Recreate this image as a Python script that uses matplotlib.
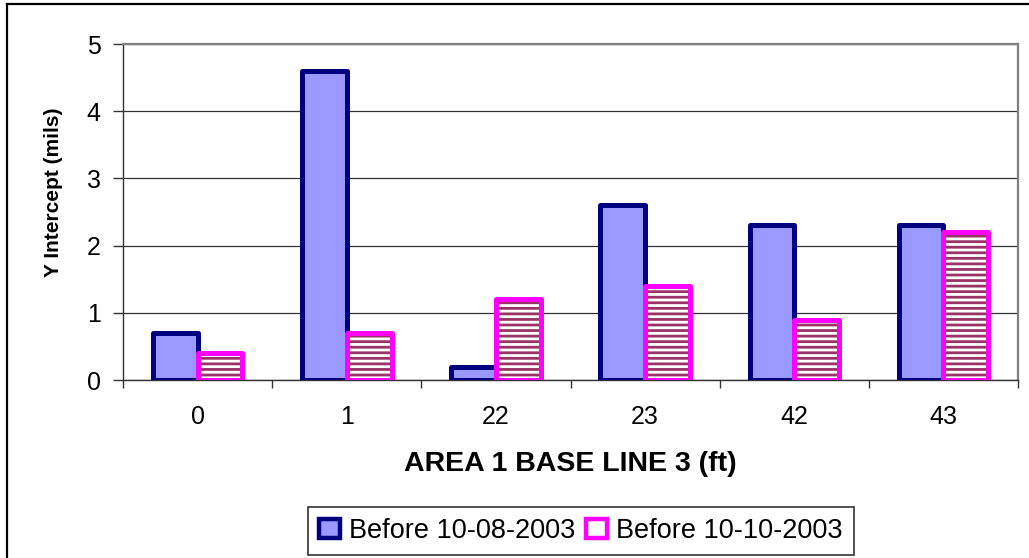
import matplotlib
matplotlib.use("Agg")
import matplotlib.pyplot as plt
import numpy as np
from matplotlib.patches import Patch
from matplotlib.lines import Line2D

# Data
categories = ["0", "1", "22", "23", "42", "43"]
before_1008 = [0.7, 4.6, 0.2, 2.6, 2.3, 2.3]
before_1010 = [0.4, 0.7, 1.2, 1.4, 0.9, 2.2]
series_labels = ["Before 10-08-2003", "Before 10-10-2003"]
y_ticks = [0, 1, 2, 3, 4, 5]

plt.rcParams["font.family"] = ["Liberation Sans", "DejaVu Sans"]
plt.rcParams["hatch.linewidth"] = 2.0

W, H = 1029, 558
fig = plt.figure(figsize=(W / 100, H / 100), dpi=100)
ax = fig.add_axes([123 / W, 1 - 380 / H, (1018 - 123) / W, (380 - 44) / H])

x = np.arange(len(categories))
bw = 0.3
navy = "#000080"
lilac = "#9999FF"
magenta = "#FF00FF"
plum = "#993366"

ax.bar(x - bw / 2, before_1008, bw, facecolor=lilac, edgecolor=navy,
       linewidth=3.6, joinstyle="round", zorder=3)
# striped fill, then the magenta outline on top
ax.bar(x + bw / 2, before_1010, bw, facecolor="white", edgecolor=plum,
       hatch="---", linewidth=0, zorder=4)
ax.bar(x + bw / 2, before_1010, bw, facecolor="none", edgecolor=magenta,
       linewidth=3.6, joinstyle="round", zorder=5)

ax.set_xlim(-0.5, len(categories) - 0.5)
ax.set_ylim(0, 5)
ax.set_yticks(y_ticks)
ax.set_xticks(x)
ax.set_xticklabels(categories)
ax.set_xticks(np.arange(-0.5, len(categories)), minor=True)

ax.tick_params(axis="y", which="major", labelsize=18, length=7, width=1,
               color="#333333", pad=9, direction="out")
ax.tick_params(axis="x", which="major", labelsize=18, length=0, pad=18)
ax.tick_params(axis="x", which="minor", length=6, width=1,
               color="#333333", direction="out")

ax.yaxis.grid(True, color="#333333", linewidth=0.9, zorder=0)
ax.set_axisbelow(True)

for side in ("left", "bottom"):
    ax.spines[side].set_color("#333333")
    ax.spines[side].set_linewidth(1.0)
for side in ("top", "right"):
    ax.spines[side].set_color("#808080")
    ax.spines[side].set_linewidth(1.6)

ax.set_ylabel("Y Intercept (mils)", fontsize=15, fontweight="bold",
              va="center")
ax.yaxis.set_label_coords(-0.078, 0.56)
ax.set_xlabel("AREA 1 BASE LINE 3 (ft)", fontsize=20.5, fontweight="bold",
              va="center")
ax.xaxis.set_label_coords(0.5, -0.25)

handles = [
    Patch(facecolor=lilac, edgecolor=navy, linewidth=3.2),
    Patch(facecolor="white", edgecolor=magenta, linewidth=3.2),
]
leg = fig.legend(handles, series_labels, loc="center",
                 bbox_to_anchor=(581 / W, 1 - 531 / H), ncol=2, fontsize=19.5,
                 frameon=True, fancybox=False, handlelength=0.75,
                 handleheight=0.75, handletextpad=0.35, columnspacing=0.4,
                 borderpad=0.4, borderaxespad=0)
leg.get_frame().set_edgecolor("black")
leg.get_frame().set_linewidth(1.2)

# outer chart border (top and left edges)
fig.add_artist(Line2D([6.5 / W, 6.5 / W], [0, 1 - 3.5 / H],
                      color="black", linewidth=1.6, transform=fig.transFigure))
fig.add_artist(Line2D([6.5 / W, 1], [1 - 3.5 / H, 1 - 3.5 / H],
                      color="black", linewidth=1.6, transform=fig.transFigure))

fig.savefig("out.png", dpi=100)
